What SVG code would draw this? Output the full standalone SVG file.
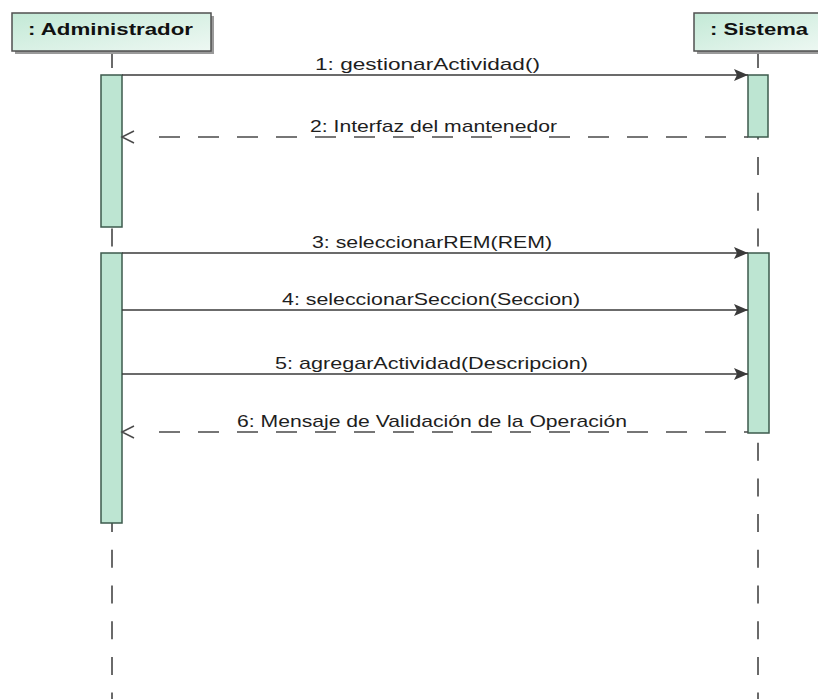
<svg xmlns="http://www.w3.org/2000/svg" width="818" height="699" viewBox="0 0 818 699">
  <defs>
    <linearGradient id="headFill" x1="0" y1="0" x2="1" y2="1">
      <stop offset="0" stop-color="#c3e9d6"/>
      <stop offset="1" stop-color="#eef8f3"/>
    </linearGradient>
    <marker id="filled" viewBox="0 0 14 14" refX="14" refY="7" markerWidth="14" markerHeight="14" markerUnits="userSpaceOnUse" orient="auto">
      <path d="M0,1 L14,7 L0,13 L3,7 Z" fill="#3a3a3a"/>
    </marker>
  </defs>
  <style>
    .head { fill: url(#headFill); stroke: #505050; stroke-width: 1.5; }
    .shadow { fill: #9a9a9a; }
    .headText { font-family: "Liberation Sans", Arial, sans-serif; font-weight: bold; font-size: 17px; fill: #111; }
    .lifeline { stroke: #3a3a3a; stroke-width: 1.5; stroke-dasharray: 18 17.7; fill: none; }
    .bar { fill: #bde5d2; stroke: #3d5a4c; stroke-width: 1.5; }
    .call { stroke: #3a3a3a; stroke-width: 1.5; fill: none; }
    .reply { stroke: #4a4a4a; stroke-width: 1.5; stroke-dasharray: 21 18; fill: none; }
    .open { stroke: #4a4a4a; stroke-width: 1.5; fill: none; }
    .label { font-family: "Liberation Sans", Arial, sans-serif; font-size: 17px; fill: #1e1e1e; }
  </style>

  <rect width="818" height="699" fill="#ffffff"/>

  <!-- lifelines -->
  <g id="lifelines">
    <line class="lifeline" x1="112" y1="50" x2="112" y2="699"/>
    <line class="lifeline" x1="758" y1="50" x2="758" y2="699"/>
  </g>

  <!-- participant: Administrador -->
  <g id="administrador">
    <rect class="shadow" x="15" y="16" width="199" height="38"/>
    <rect class="head" x="12" y="13" width="199" height="38"/>
    <text class="headText" x="28" y="35" textLength="165" lengthAdjust="spacingAndGlyphs">: Administrador</text>
    <rect class="bar" x="101" y="75" width="21" height="152"/>
    <rect class="bar" x="101" y="253" width="21" height="270"/>
  </g>

  <!-- participant: Sistema -->
  <g id="sistema">
    <rect class="shadow" x="697" y="16" width="130" height="38"/>
    <rect class="head" x="694" y="13" width="130" height="38"/>
    <text class="headText" x="710" y="35" textLength="98" lengthAdjust="spacingAndGlyphs">: Sistema</text>
    <rect class="bar" x="748" y="75" width="20" height="62"/>
    <rect class="bar" x="748" y="253" width="21" height="180"/>
  </g>

  <!-- messages -->
  <g id="messages">
    <line class="call" x1="122" y1="75" x2="748" y2="75" marker-end="url(#filled)"/>
    <line class="reply" x1="159" y1="137" x2="748" y2="137"/>
    <path class="open" d="M134,131 L122,137 L134,143"/>
    <line class="call" x1="122" y1="253" x2="748" y2="253" marker-end="url(#filled)"/>
    <line class="call" x1="122" y1="310" x2="748" y2="310" marker-end="url(#filled)"/>
    <line class="call" x1="122" y1="374" x2="748" y2="374" marker-end="url(#filled)"/>
    <line class="reply" x1="159" y1="432" x2="748" y2="432"/>
    <path class="open" d="M134,426 L122,432 L134,438"/>
  </g>

  <!-- message labels -->
  <g id="labels">
    <text class="label" x="315" y="70" textLength="225" lengthAdjust="spacingAndGlyphs">1:  gestionarActividad()</text>
    <text class="label" x="310" y="132" textLength="247" lengthAdjust="spacingAndGlyphs">2: Interfaz del mantenedor</text>
    <text class="label" x="312" y="248" textLength="240" lengthAdjust="spacingAndGlyphs">3:  seleccionarREM(REM)</text>
    <text class="label" x="282" y="305" textLength="298" lengthAdjust="spacingAndGlyphs">4:  seleccionarSeccion(Seccion)</text>
    <text class="label" x="275" y="369" textLength="313" lengthAdjust="spacingAndGlyphs">5:  agregarActividad(Descripcion)</text>
    <text class="label" x="237" y="427" textLength="390" lengthAdjust="spacingAndGlyphs">6: Mensaje de Validación de la Operación</text>
  </g>
</svg>
